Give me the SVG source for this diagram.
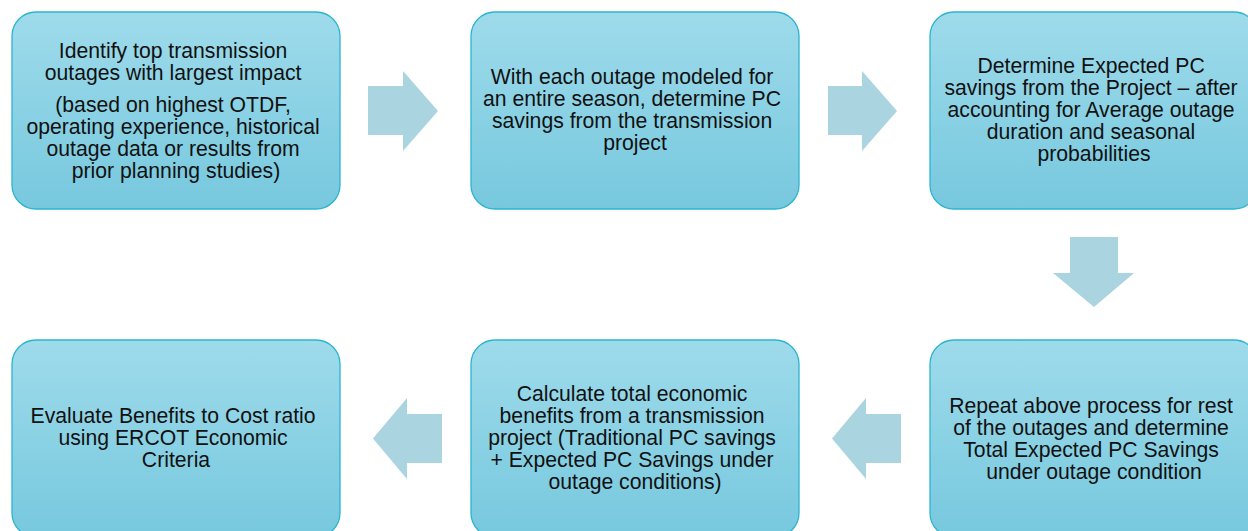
<svg xmlns="http://www.w3.org/2000/svg" width="1248" height="531" viewBox="0 0 1248 531">
  <style>
    .box { fill: url(#boxFill); stroke: #2bb4cf; stroke-width: 1.3; }
    .lbl { font-family: "Liberation Sans", Arial, sans-serif; font-size: 21.2px; fill: #111; text-anchor: middle; }
    .arrow { fill: #a9d4e0; }
  </style>
  <defs>
    <linearGradient id="boxFill" x1="0" y1="0" x2="0" y2="1">
      <stop offset="0" stop-color="#9edbeb"/>
      <stop offset="1" stop-color="#77c8de"/>
    </linearGradient>
  </defs>
  <rect width="1248" height="531" fill="#ffffff"/>

  <!-- connectors: block arrows between steps -->
  <g id="connectors">
    <polygon class="arrow" points="368,86 403,86 403,71 438,111 403,151 403,135 368,135"/>
    <polygon class="arrow" points="828,86 862,86 862,71 897,111 862,151 862,135 828,135"/>
    <polygon class="arrow" points="1070,237 1118,237 1118,273 1134,273 1094,307 1053,273 1070,273"/>
    <polygon class="arrow" points="901,414 866,414 866,398 832,438.5 866,479 866,463 901,463"/>
    <polygon class="arrow" points="442,414 407,414 407,398 373,438.5 407,479 407,463 442,463"/>
  </g>

  <g id="step1">
    <rect class="box" x="12" y="12" width="328" height="197" rx="24"/>
    <text class="lbl">
      <tspan x="176" y="58">Identify top transmission</tspan>
      <tspan x="176" y="80">outages with largest impact</tspan>
      <tspan x="176" y="111.5">(based on highest OTDF,</tspan>
      <tspan x="176" y="133.5">operating experience, historical</tspan>
      <tspan x="176" y="155.5">outage data or results from</tspan>
      <tspan x="176" y="177.5">prior planning studies)</tspan>
    </text>
  </g>

  <g id="step2">
    <rect class="box" x="471" y="12" width="328" height="197" rx="24"/>
    <text class="lbl">
      <tspan x="635" y="83.5">With each outage modeled for</tspan>
      <tspan x="635" y="105.5">an entire season, determine PC</tspan>
      <tspan x="635" y="127.5">savings from the transmission</tspan>
      <tspan x="635" y="149.5">project</tspan>
    </text>
  </g>

  <g id="step3">
    <rect class="box" x="930" y="12" width="328" height="197" rx="24"/>
    <text class="lbl">
      <tspan x="1094" y="72.5">Determine Expected PC</tspan>
      <tspan x="1094" y="94.5">savings from the Project – after</tspan>
      <tspan x="1094" y="116.5">accounting for Average outage</tspan>
      <tspan x="1094" y="138.5">duration and seasonal</tspan>
      <tspan x="1094" y="160.5">probabilities</tspan>
    </text>
  </g>

  <g id="step4">
    <rect class="box" x="930" y="340" width="328" height="197" rx="24"/>
    <text class="lbl">
      <tspan x="1094" y="412.5">Repeat above process for rest</tspan>
      <tspan x="1094" y="434.5">of the outages and determine</tspan>
      <tspan x="1094" y="456.5">Total Expected PC Savings</tspan>
      <tspan x="1094" y="478.5">under outage condition</tspan>
    </text>
  </g>

  <g id="step5">
    <rect class="box" x="471" y="340" width="328" height="197" rx="24"/>
    <text class="lbl">
      <tspan x="635" y="401">Calculate total economic</tspan>
      <tspan x="635" y="423">benefits from a transmission</tspan>
      <tspan x="635" y="445">project (Traditional PC savings</tspan>
      <tspan x="635" y="467">+ Expected PC Savings under</tspan>
      <tspan x="635" y="489">outage conditions)</tspan>
    </text>
  </g>

  <g id="step6">
    <rect class="box" x="12" y="340" width="328" height="197" rx="24"/>
    <text class="lbl">
      <tspan x="176" y="422.5">Evaluate Benefits to Cost ratio</tspan>
      <tspan x="176" y="444.5">using ERCOT Economic</tspan>
      <tspan x="176" y="466.5">Criteria</tspan>
    </text>
  </g>
</svg>
